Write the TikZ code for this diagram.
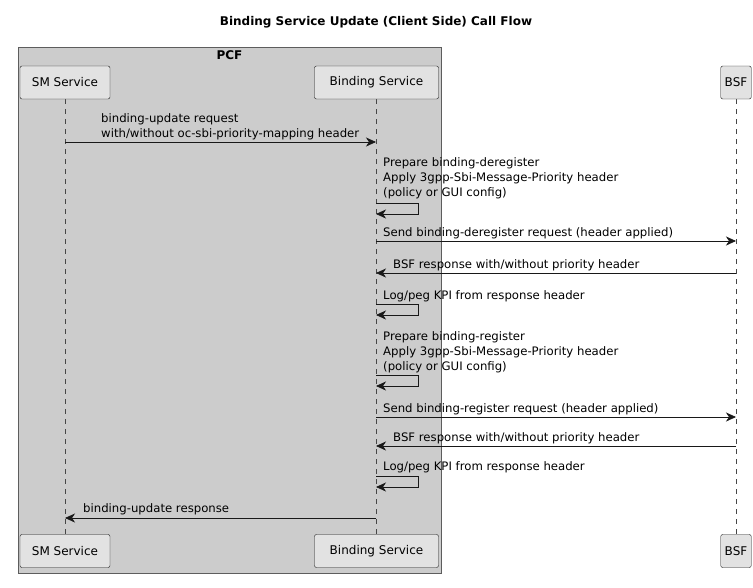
\documentclass[tikz,border=0pt]{standalone}
\usepackage{fontspec}
\setmainfont{DejaVu Sans}
\usetikzlibrary{arrows.meta}
\definecolor{pcfbg}{HTML}{CCCCCC}
\definecolor{partbg}{HTML}{E2E2E2}
\definecolor{bord}{HTML}{181818}
\begin{document}
\begin{tikzpicture}[x=1pt,y=-1pt,
  part/.style={draw=bord,fill=partbg,rounded corners=2pt,minimum height=33pt,inner sep=4pt,font=\fontsize{12}{14}\selectfont,anchor=center},
  life/.style={dash pattern=on 5pt off 5pt,draw=bord!80,line width=0.5pt},
  msg/.style={-{Stealth[length=10pt,width=9pt,inset=3pt]},draw=bord,line width=0.7pt},
  lbl/.style={font=\fontsize{11.7}{15}\selectfont,anchor=base west,inner sep=0pt,align=left}]
\useasboundingbox (0,0) rectangle (753,587);
\node[font=\bfseries\fontsize{12}{14}\selectfont] (title) at (376,22) {Binding Service Update (Client Side) Call Flow};
\draw[fill=pcfbg,draw=bord!70] (18,47) rectangle (441,573);
\node[font=\bfseries\fontsize{12}{14}\selectfont] (pcf) at (229.5,55) {PCF};
% lifelines
\coordinate (smT) at (65,99); \coordinate (smB) at (65,535);
\coordinate (bsT) at (376,99); \coordinate (bsB) at (376,535);
\coordinate (bfT) at (736,99); \coordinate (bfB) at (736,535);
\draw[life] (smT)--(smB); \draw[life] (bsT)--(bsB); \draw[life] (bfT)--(bfB);
\node[part,minimum width=90pt] (sm1) at (65,82.5) {SM Service};
\node[part,minimum width=124pt] (bs1) at (376.5,82.5) {Binding Service};
\node[part,minimum width=28pt] (bf1) at (736,82.5) {BSF};
\node[part,minimum width=90pt] (sm2) at (65,551) {SM Service};
\node[part,minimum width=124pt] (bs2) at (376.5,551) {Binding Service};
\node[part,minimum width=28pt] (bf2) at (736,551) {BSF};
% messages
\node[lbl] (l1) at (101,137) {binding-update request\\with/without oc-sbi-priority-mapping header};
\draw[msg] (65,142) -- (376,142);
\node[lbl] (l2) at (383,196) {Prepare binding-deregister\\Apply 3gpp-Sbi-Message-Priority header\\(policy or GUI config)};
\draw[msg] (376,203) -- (418,203) -- (418,214) -- (376,214);
\node[lbl] (l3) at (383,236) {Send binding-deregister request (header applied)};
\draw[msg] (376,241) -- (736,241);
\node[lbl] (l4) at (393,268) {BSF response with/without priority header};
\draw[msg] (736,273) -- (376,273);
\node[lbl] (l5) at (383,299) {Log/peg KPI from response header};
\draw[msg] (376,304) -- (418,304) -- (418,315) -- (376,315);
\node[lbl] (l6) at (383,370) {Prepare binding-register\\Apply 3gpp-Sbi-Message-Priority header\\(policy or GUI config)};
\draw[msg] (376,375) -- (418,375) -- (418,386) -- (376,386);
\node[lbl] (l7) at (383,412) {Send binding-register request (header applied)};
\draw[msg] (376,417) -- (736,417);
\node[lbl] (l8) at (393,441) {BSF response with/without priority header};
\draw[msg] (736,446) -- (376,446);
\node[lbl] (l9) at (383,470) {Log/peg KPI from response header};
\draw[msg] (376,476) -- (418,476) -- (418,487) -- (376,487);
\node[lbl] (l10) at (83,512) {binding-update response};
\draw[msg] (376,518) -- (65,518);
\end{tikzpicture}
\end{document}
